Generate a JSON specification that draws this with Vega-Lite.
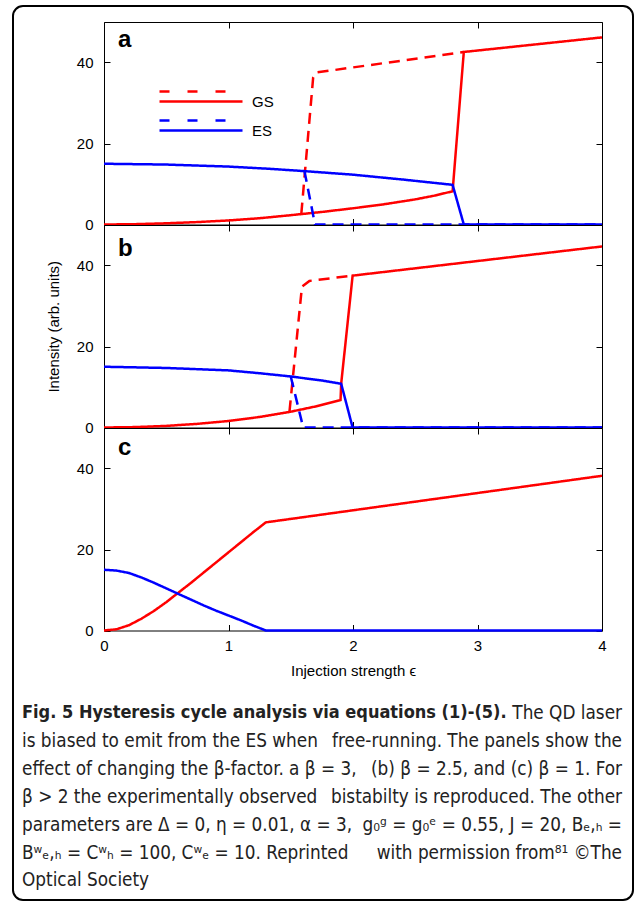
{
  "$schema": "https://vega.github.io/schema/vega-lite/v6.json",
  "padding": {"left": 12, "top": 5, "right": 0, "bottom": 0},
  "background": "white",
  "config": {
    "font": "Liberation Sans",
    "view": {"stroke": "#000", "strokeWidth": 1},
    "axis": {"domain": false, "grid": false, "tickColor": "#000", "tickSize": -6, "tickWidth": 1,
             "labelFont": "Liberation Sans", "labelFontSize": 15, "labelColor": "#000", "labelPadding": 17,
             "titleFont": "Liberation Sans", "titleFontSize": 15, "titleFontWeight": "normal", "titleColor": "#000",
             "titlePadding": 15, "minExtent": 0, "labelFlush": false},
    "legend": {"strokeWidth": 2},
    "line": {"strokeWidth": 2.5}
  },
  "datasets": {
    "curves": [
      {"p":"a","s":"GS","b":"stable","x":0,"y":0},{"p":"a","s":"GS","b":"stable","x":0.25,"y":0.08},{"p":"a","s":"GS","b":"stable","x":0.5,"y":0.3},{"p":"a","s":"GS","b":"stable","x":0.75,"y":0.6},{"p":"a","s":"GS","b":"stable","x":1,"y":1.0},{"p":"a","s":"GS","b":"stable","x":1.25,"y":1.55},{"p":"a","s":"GS","b":"stable","x":1.5,"y":2.3},{"p":"a","s":"GS","b":"stable","x":1.75,"y":3.1},{"p":"a","s":"GS","b":"stable","x":2,"y":4.0},{"p":"a","s":"GS","b":"stable","x":2.25,"y":5.0},{"p":"a","s":"GS","b":"stable","x":2.5,"y":6.2},{"p":"a","s":"GS","b":"stable","x":2.65,"y":7.1},{"p":"a","s":"GS","b":"stable","x":2.8,"y":8.2},{"p":"a","s":"GS","b":"stable","x":2.89,"y":42.6},{"p":"a","s":"GS","b":"stable","x":4,"y":46.2},
      {"p":"a","s":"GS","b":"unstable","x":1.585,"y":2.7},{"p":"a","s":"GS","b":"unstable","x":1.68,"y":36.3},{"p":"a","s":"GS","b":"unstable","x":1.7,"y":37.5},{"p":"a","s":"GS","b":"unstable","x":2.89,"y":42.6},
      {"p":"a","s":"ES","b":"stable","x":0,"y":15},{"p":"a","s":"ES","b":"stable","x":0.5,"y":14.8},{"p":"a","s":"ES","b":"stable","x":1,"y":14.3},{"p":"a","s":"ES","b":"stable","x":1.33,"y":13.75},{"p":"a","s":"ES","b":"stable","x":1.6,"y":13.2},{"p":"a","s":"ES","b":"stable","x":2,"y":12.3},{"p":"a","s":"ES","b":"stable","x":2.4,"y":11.1},{"p":"a","s":"ES","b":"stable","x":2.8,"y":9.8},{"p":"a","s":"ES","b":"stable","x":2.89,"y":0},{"p":"a","s":"ES","b":"stable","x":4,"y":0},
      {"p":"a","s":"ES","b":"unstable","x":1.61,"y":13.2},{"p":"a","s":"ES","b":"unstable","x":1.695,"y":0},{"p":"a","s":"ES","b":"unstable","x":4,"y":0},
      {"p":"b","s":"GS","b":"stable","x":0,"y":0},{"p":"b","s":"GS","b":"stable","x":0.25,"y":0.1},{"p":"b","s":"GS","b":"stable","x":0.5,"y":0.4},{"p":"b","s":"GS","b":"stable","x":0.75,"y":0.9},{"p":"b","s":"GS","b":"stable","x":1,"y":1.6},{"p":"b","s":"GS","b":"stable","x":1.25,"y":2.6},{"p":"b","s":"GS","b":"stable","x":1.5,"y":3.9},{"p":"b","s":"GS","b":"stable","x":1.7,"y":5.2},{"p":"b","s":"GS","b":"stable","x":1.9,"y":6.8},{"p":"b","s":"GS","b":"stable","x":1.905,"y":10.8},{"p":"b","s":"GS","b":"stable","x":1.997,"y":37.5},{"p":"b","s":"GS","b":"stable","x":4,"y":44.7},
      {"p":"b","s":"GS","b":"unstable","x":1.49,"y":4.0},{"p":"b","s":"GS","b":"unstable","x":1.59,"y":34.8},{"p":"b","s":"GS","b":"unstable","x":1.65,"y":36.2},{"p":"b","s":"GS","b":"unstable","x":1.997,"y":37.5},
      {"p":"b","s":"ES","b":"stable","x":0,"y":15},{"p":"b","s":"ES","b":"stable","x":0.5,"y":14.7},{"p":"b","s":"ES","b":"stable","x":1,"y":14.1},{"p":"b","s":"ES","b":"stable","x":1.25,"y":13.4},{"p":"b","s":"ES","b":"stable","x":1.5,"y":12.6},{"p":"b","s":"ES","b":"stable","x":1.75,"y":11.6},{"p":"b","s":"ES","b":"stable","x":1.905,"y":10.8},{"p":"b","s":"ES","b":"stable","x":1.997,"y":0},{"p":"b","s":"ES","b":"stable","x":4,"y":0},
      {"p":"b","s":"ES","b":"unstable","x":1.5,"y":12.6},{"p":"b","s":"ES","b":"unstable","x":1.6,"y":0},{"p":"b","s":"ES","b":"unstable","x":4,"y":0},
      {"p":"c","s":"GS","b":"stable","x":0,"y":0},{"p":"c","s":"GS","b":"stable","x":0.1,"y":0.3},{"p":"c","s":"GS","b":"stable","x":0.2,"y":1.3},{"p":"c","s":"GS","b":"stable","x":0.3,"y":2.9},{"p":"c","s":"GS","b":"stable","x":0.4,"y":4.8},{"p":"c","s":"GS","b":"stable","x":0.5,"y":7.0},{"p":"c","s":"GS","b":"stable","x":0.6,"y":9.4},{"p":"c","s":"GS","b":"stable","x":0.7,"y":11.8},{"p":"c","s":"GS","b":"stable","x":0.8,"y":14.3},{"p":"c","s":"GS","b":"stable","x":0.9,"y":16.8},{"p":"c","s":"GS","b":"stable","x":1.0,"y":19.3},{"p":"c","s":"GS","b":"stable","x":1.1,"y":21.8},{"p":"c","s":"GS","b":"stable","x":1.2,"y":24.3},{"p":"c","s":"GS","b":"stable","x":1.3,"y":26.7},{"p":"c","s":"GS","b":"stable","x":4,"y":38.2},
      {"p":"c","s":"ES","b":"stable","x":0,"y":15},{"p":"c","s":"ES","b":"stable","x":0.1,"y":14.8},{"p":"c","s":"ES","b":"stable","x":0.2,"y":14.2},{"p":"c","s":"ES","b":"stable","x":0.3,"y":13.1},{"p":"c","s":"ES","b":"stable","x":0.4,"y":11.8},{"p":"c","s":"ES","b":"stable","x":0.5,"y":10.4},{"p":"c","s":"ES","b":"stable","x":0.6,"y":9.0},{"p":"c","s":"ES","b":"stable","x":0.7,"y":7.6},{"p":"c","s":"ES","b":"stable","x":0.8,"y":6.2},{"p":"c","s":"ES","b":"stable","x":0.9,"y":4.9},{"p":"c","s":"ES","b":"stable","x":1.0,"y":3.7},{"p":"c","s":"ES","b":"stable","x":1.1,"y":2.5},{"p":"c","s":"ES","b":"stable","x":1.2,"y":1.2},{"p":"c","s":"ES","b":"stable","x":1.3,"y":0},{"p":"c","s":"ES","b":"stable","x":4,"y":0}
    ],
    "caption": [
      {"line":1,"side":"start","kind":"heading","text":"Fig. 5 Hysteresis cycle analysis via equations (1)-(5)."},
      {"line":1,"side":"end","kind":"body","text":"The QD laser"},
      {"line":2,"side":"start","kind":"body","text":"is biased to emit from the ES when"},
      {"line":2,"side":"end","kind":"body","text":"free-running. The panels show the"},
      {"line":3,"side":"start","kind":"body","text":"effect of changing the β-factor. a β = 3,"},
      {"line":3,"side":"end","kind":"body","text":"(b) β = 2.5, and (c) β = 1. For"},
      {"line":4,"side":"start","kind":"body","text":"β > 2 the experimentally observed"},
      {"line":4,"side":"end","kind":"body","text":"bistabilty is reproduced. The other"},
      {"line":5,"side":"start","kind":"body","text":"parameters are Δ = 0, η = 0.01, α = 3,"},
      {"line":5,"side":"end","kind":"body","text":"g₀ᵍ = g₀ᵉ = 0.55, J = 20, Bₑ,ₕ ="},
      {"line":6,"side":"start","kind":"body","text":"Bʷₑ,ₕ = Cʷₕ = 100, Cʷₑ = 10. Reprinted"},
      {"line":6,"side":"end","kind":"body","text":"with permission from⁸¹ ©The"},
      {"line":7,"side":"start","kind":"body","text":"Optical Society"}
    ]
  },
  "vconcat": [
    {
      "width": 498, "height": 202.5,
      "data": {"name": "curves"},
      "transform": [{"filter": "datum.p == 'a'"}],
      "title": {"text": "a", "anchor": "start", "frame": "group", "orient": "top", "offset": -49, "dx": 14, "fontSize": 24, "fontWeight": "bold", "baseline": "alphabetic", "font": "Liberation Sans", "color": "#000"},
      "layer": [
        {
          "mark": {"type": "line"},
          "encoding": {
            "x": {"field": "x", "type": "quantitative", "scale": {"domain": [0, 4], "nice": false}, "axis": {"orient": "bottom", "values": [0, 1, 2, 3, 4], "labels": false, "title": null}},
            "y": {"field": "y", "type": "quantitative", "scale": {"domain": [0, 50], "nice": false}, "axis": {"orient": "left", "values": [0, 20, 40], "title": null}},
            "color": {"field": "s", "type": "nominal", "scale": {"domain": ["GS", "ES"], "range": ["#ff0000", "#0000ff"]},
              "legend": {"orient": "none", "legendX": 53, "legendY": 72, "title": null, "padding": 0,
                "symbolType": "M-1,-2H1M4.6,-2H6.6M10.2,-2H12.2M-1,0H15.6", "symbolSize": 100, "symbolStrokeWidth": 3,
                "labelFont": "Liberation Sans", "labelFontSize": 15, "labelColor": "#000", "labelOffset": 80, "rowPadding": 5}},
            "strokeDash": {"field": "b", "type": "nominal", "scale": {"domain": ["stable", "unstable"], "range": [[1, 0], [11, 7]]}, "legend": null}
          }
        },
        {
          "mark": {"type": "line", "opacity": 0},
          "encoding": {
            "x": {"field": "x", "type": "quantitative", "axis": {"orient": "top", "values": [0, 1, 2, 3, 4], "labels": false, "title": null}},
            "y": {"field": "y", "type": "quantitative", "axis": {"orient": "right", "values": [0, 20, 40], "labels": false, "title": null}},
            "stroke": {"field": "y", "type": "quantitative",
              "legend": {"orient": "none", "legendX": -91, "legendY": -16, "direction": "vertical", "title": null, "padding": 0,
                "gradientLength": 894, "gradientThickness": 618, "gradientOpacity": 0, "gradientStrokeWidth": 0,
                "labelOpacity": 0, "labelFontSize": 1, "labelOffset": 0, "tickCount": 2,
                "strokeColor": "#000", "cornerRadius": 10, "fillColor": null}}
          }
        }
      ],
      "resolve": {"axis": {"x": "independent", "y": "independent"}}
    },
    {
      "width": 498, "height": 202.5,
      "data": {"name": "curves"},
      "transform": [{"filter": "datum.p == 'b'"}],
      "title": {"text": "b", "anchor": "start", "frame": "group", "orient": "top", "offset": -55, "dx": 14, "fontSize": 24, "fontWeight": "bold", "baseline": "alphabetic", "font": "Liberation Sans", "color": "#000"},
      "layer": [
        {
          "mark": {"type": "line"},
          "encoding": {
            "x": {"field": "x", "type": "quantitative", "scale": {"domain": [0, 4], "nice": false}, "axis": {"orient": "bottom", "values": [0, 1, 2, 3, 4], "labels": false, "title": null}},
            "y": {"field": "y", "type": "quantitative", "scale": {"domain": [0, 50], "nice": false}, "axis": {"orient": "left", "values": [0, 20, 40], "title": "Intensity (arb. units)"}},
            "color": {"field": "s", "type": "nominal", "scale": {"domain": ["GS", "ES"], "range": ["#ff0000", "#0000ff"]}, "legend": null},
            "strokeDash": {"field": "b", "type": "nominal", "scale": {"domain": ["stable", "unstable"], "range": [[1, 0], [11, 7]]}, "legend": null}
          }
        },
        {
          "mark": {"type": "line", "opacity": 0},
          "encoding": {
            "x": {"field": "x", "type": "quantitative", "axis": {"orient": "top", "values": [0, 1, 2, 3, 4], "labels": false, "title": null}},
            "y": {"field": "y", "type": "quantitative", "axis": {"orient": "right", "values": [0, 20, 40], "labels": false, "title": null}}
          }
        }
      ],
      "resolve": {"axis": {"x": "independent", "y": "independent"}}
    },
    {
      "width": 498, "height": 202.5,
      "data": {"name": "curves"},
      "transform": [{"filter": "datum.p == 'c'"}],
      "title": {"text": "c", "anchor": "start", "frame": "group", "orient": "top", "offset": -51, "dx": 14, "fontSize": 24, "fontWeight": "bold", "baseline": "alphabetic", "font": "Liberation Sans", "color": "#000"},
      "layer": [
        {
          "mark": {"type": "line"},
          "encoding": {
            "x": {"field": "x", "type": "quantitative", "scale": {"domain": [0, 4], "nice": false}, "axis": {"orient": "bottom", "values": [0, 1, 2, 3, 4], "labels": true, "title": "Injection strength ϵ", "labelPadding": 14, "titlePadding": 10}},
            "y": {"field": "y", "type": "quantitative", "scale": {"domain": [0, 50], "nice": false}, "axis": {"orient": "left", "values": [0, 20, 40], "title": null}},
            "color": {"field": "s", "type": "nominal", "scale": {"domain": ["GS", "ES"], "range": ["#ff0000", "#0000ff"]}, "legend": null},
            "strokeDash": {"field": "b", "type": "nominal", "scale": {"domain": ["stable", "unstable"], "range": [[1, 0], [11, 7]]}, "legend": null}
          }
        },
        {
          "mark": {"type": "line", "opacity": 0},
          "encoding": {
            "x": {"field": "x", "type": "quantitative", "axis": {"orient": "top", "values": [0, 1, 2, 3, 4], "labels": false, "title": null}},
            "y": {"field": "y", "type": "quantitative", "axis": {"orient": "right", "values": [0, 20, 40], "labels": false, "title": null}}
          }
        }
      ],
      "resolve": {"axis": {"x": "independent", "y": "independent"}}
    },
    {
      "width": 498, "height": 264,
      "data": {"name": "caption"},
      "view": {"stroke": null},
      "encoding": {
        "x": {"field": "side", "type": "nominal", "scale": {"type": "point", "domain": ["start", "end"], "padding": 0, "range": [-82, 518]}, "axis": null},
        "y": {"field": "line", "type": "quantitative", "scale": {"domain": [-1.964, 7.522], "reverse": true, "nice": false, "zero": false}, "axis": null},
        "text": {"field": "text"}
      },
      "layer": [
        {"transform": [{"filter": "datum.kind == 'heading'"}], "mark": {"type": "text", "align": "left", "baseline": "middle", "font": "DejaVu Sans Condensed, Liberation Sans", "fontSize": 18, "fontWeight": "bold", "color": "#222"}},
        {"transform": [{"filter": "datum.kind == 'body' && datum.side == 'start'"}], "mark": {"type": "text", "align": "left", "baseline": "middle", "font": "DejaVu Sans Condensed, Liberation Sans", "fontSize": 18.8, "color": "#222"}},
        {"transform": [{"filter": "datum.side == 'end'"}], "mark": {"type": "text", "align": "right", "baseline": "middle", "font": "DejaVu Sans Condensed, Liberation Sans", "fontSize": 18.8, "color": "#222"}}
      ]
    }
  ],
  "spacing": 0,
  "bounds": "flush",
  "resolve": {"scale": {"color": "independent", "strokeDash": "independent"}, "legend": {"color": "independent", "strokeDash": "independent"}}
}
